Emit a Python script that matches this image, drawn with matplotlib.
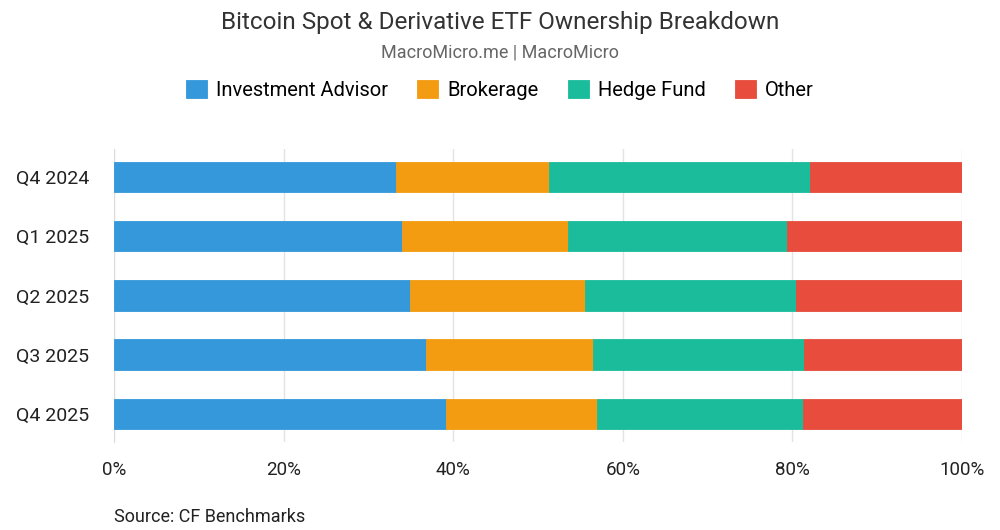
import numpy as np
import matplotlib.pyplot as plt
from matplotlib.ticker import FuncFormatter

plt.rcParams['font.family'] = ['Roboto', 'DejaVu Sans']

quarters = ["Q4 2024", "Q1 2025", "Q2 2025", "Q3 2025", "Q4 2025"]
investment_advisor = [33.3, 34.0, 34.9, 36.8, 39.1]
brokerage = [18.0, 19.5, 20.6, 19.7, 17.8]
hedge_fund = [30.8, 25.9, 24.9, 24.9, 24.3]
other = [17.9, 20.6, 19.6, 18.6, 18.8]

series = [
    ("Investment Advisor", investment_advisor, "#3498db"),
    ("Brokerage", brokerage, "#f39c12"),
    ("Hedge Fund", hedge_fund, "#1abc9c"),
    ("Other", other, "#e74c3c"),
]

fig = plt.figure(figsize=(10, 5.3), dpi=100)
ax = fig.add_axes([0.114, 0.166, 0.848, 0.553])

y = np.arange(len(quarters))
left = np.zeros(len(quarters))
handles = []
for name, vals, color in series:
    b = ax.barh(y, vals, left=left, height=0.51, color=color,
                edgecolor=color, linewidth=0.6, label=name, zorder=3)
    handles.append(b)
    left += np.array(vals)

ax.set_xlim(0, 100)
ax.set_ylim(4.48, -0.48)
ax.set_yticks(y)
ax.set_yticklabels(quarters, fontsize=14, color="#222222")
ax.set_xticks(range(0, 101, 20))
ax.xaxis.set_major_formatter(FuncFormatter(lambda v, p: f"{int(v)}%"))
ax.tick_params(axis="x", labelsize=13.5, colors="#222222", length=0, pad=14)
ax.tick_params(axis="y", length=0, pad=18)
ax.grid(axis="x", color="#e3e3e3", linewidth=1, zorder=0)
for s in ["top", "right", "bottom"]:
    ax.spines[s].set_visible(False)
ax.spines["left"].set_color("#dddddd")

fig.text(0.5, 0.958, "Bitcoin Spot & Derivative ETF Ownership Breakdown",
         ha="center", va="center", fontsize=17.5, color="#333333")
fig.text(0.5, 0.9, "MacroMicro.me | MacroMicro",
         ha="center", va="center", fontsize=13, color="#666666")
fig.legend(handles=handles, loc="center", bbox_to_anchor=(0.5, 0.831), ncol=4,
           frameon=False, fontsize=14.5, handlelength=1.05, handleheight=1.0,
           handletextpad=0.45, columnspacing=1.45)
fig.text(0.114, 0.025, "Source: CF Benchmarks", ha="left", va="center",
         fontsize=13, color="#222222")

plt.savefig("out.png", dpi=100)
